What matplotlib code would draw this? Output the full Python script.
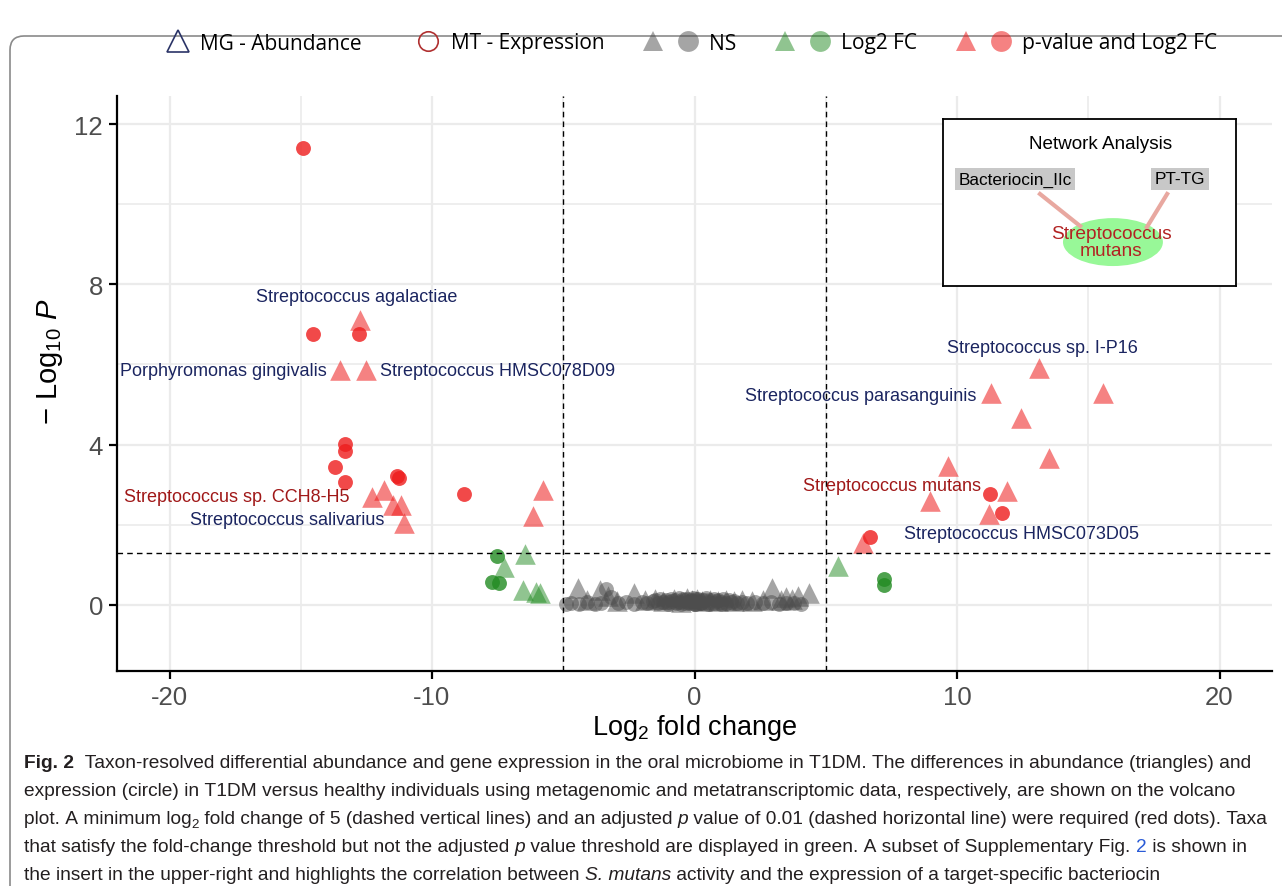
import matplotlib
matplotlib.use("Agg")
import matplotlib.pyplot as plt
from matplotlib.lines import Line2D
from matplotlib.legend_handler import HandlerTuple
from matplotlib.patches import FancyBboxPatch, Ellipse
from matplotlib.transforms import IdentityTransform

plt.rcParams["font.family"] = ["Liberation Sans", "DejaVu Sans"]
plt.rcParams["mathtext.fontset"] = "custom"
plt.rcParams["mathtext.rm"] = "Liberation Sans"
plt.rcParams["mathtext.it"] = "Liberation Sans:italic"
plt.rcParams["axes.unicode_minus"] = False

# significant (p-value and log2 FC), metatranscriptome (circles)
sig_mt_x = [-14.93, -14.55, -12.8, -13.33, -13.33, -13.68, -13.3, -11.35, -11.24, -8.8, 11.24, 11.73, 6.7]
sig_mt_y = [11.4, 6.77, 6.75, 4.01, 3.83, 3.44, 3.06, 3.21, 3.16, 2.76, 2.76, 2.29, 1.69]
# significant, metagenome (triangles)
sig_mg_x = [-12.76, -13.49, -12.53, -12.27, -11.81, -11.47, -11.2, -11.05, -5.79, -6.17,
            13.14, 11.28, 15.58, 12.42, 13.52, 9.64, 8.99, 11.92, 11.2, 6.4]
sig_mg_y = [7.12, 5.85, 5.87, 2.69, 2.86, 2.49, 2.49, 2.04, 2.86, 2.22,
            5.9, 5.3, 5.3, 4.66, 3.66, 3.46, 2.59, 2.84, 2.27, 1.54]
# log2 FC only
fc_mt_x = [-7.54, -7.7, -7.43, 7.2, 7.2]
fc_mt_y = [1.22, 0.57, 0.55, 0.65, 0.5]
fc_mg_x = [-6.44, -7.24, -6.55, -6.02, -5.9, 5.45]
fc_mg_y = [1.27, 0.95, 0.37, 0.32, 0.3, 0.97]
# not significant
ns_mg_x = [-4.45, -4.1, -3.6, -3.3, -2.95, -2.3, -1.9, -1.5, -1.2, -0.8, -0.5, -0.3, -0.1, 0.1, 0.3,
           0.6, 0.9, 1.2, 1.5, 1.8, 2.2, 2.6, 2.95, 3.3, 3.5, 3.7, 3.95, 4.35]
ns_mg_y = [0.42, 0.12, 0.36, 0.22, 0.1, 0.3, 0.12, 0.15, 0.1, 0.14, 0.08, 0.18, 0.12, 0.15, 0.1,
           0.12, 0.09, 0.13, 0.1, 0.12, 0.1, 0.12, 0.42, 0.12, 0.2, 0.15, 0.22, 0.3]
ns_mt_x = [-4.9, -4.7, -4.4, -4.1, -3.8, -3.55, -3.39, -3.2, -2.9, -2.6, -2.3, -2.0, -1.8, -1.6, -1.4,
           -1.2, -1.0, -0.85, -0.7, -0.55, -0.4, -0.25, -0.1, 0.0, 0.1, 0.25, 0.4, 0.55, 0.7, 0.85,
           1.0, 1.2, 1.4, 1.6, 1.8, 2.0, 2.3, 2.6, 2.9, 3.2, 3.5, 3.8, 4.05,
           -1.5, -1.3, -1.1, -0.9, -0.75, -0.6, -0.45, -0.3, -0.15, -0.05, 0.05, 0.15, 0.3,
           0.45, 0.6, 0.75, 0.9, 1.1, 1.3, 1.5, -0.5, 0.5, -1.0, 1.0, 0.0, -0.2, 0.2]
ns_mt_y = [0.03, 0.05, 0.02, 0.06, 0.03, 0.05, 0.40, 0.2, 0.04, 0.06, 0.03, 0.07, 0.05, 0.1, 0.04,
           0.08, 0.06, 0.1, 0.04, 0.08, 0.12, 0.06, 0.1, 0.03, 0.09, 0.05, 0.11, 0.07, 0.04, 0.09,
           0.06, 0.05, 0.08, 0.04, 0.06, 0.05, 0.07, 0.04, 0.06, 0.03, 0.05, 0.04, 0.03,
           0.12, 0.14, 0.11, 0.15, 0.13, 0.16, 0.14, 0.15, 0.13, 0.16, 0.14, 0.15, 0.13,
           0.16, 0.12, 0.14, 0.13, 0.15, 0.12, 0.1, 0.02, 0.02, 0.03, 0.03, 0.01, 0.05, 0.04]

# labels next to points
label_text = ["Streptococcus agalactiae", "Porphyromonas gingivalis", "Streptococcus HMSC078D09",
              "Streptococcus sp. CCH8-H5", "Streptococcus salivarius", "Streptococcus sp. I-P16",
              "Streptococcus parasanguinis", "Streptococcus mutans", "Streptococcus HMSC073D05"]
label_x = [-12.88, -14.02, -12.0, -13.14, -11.81, 13.26, 10.74, 10.9, 8.0]
label_y = [7.69, 5.85, 5.85, 2.71, 2.14, 6.42, 5.23, 2.99, 1.77]
label_ha = ["center", "right", "left", "right", "right", "center", "right", "right", "left"]
label_mt = [False, False, False, True, False, False, False, True, False]

NAVY = "#1b2560"
DARKRED = "#a01818"

fig = plt.figure(figsize=(12.82, 8.87), dpi=100)
ax = fig.add_axes([117 / 1282, 1 - 672 / 887, 1155 / 1282, 575 / 887])

ax.set_xlim(-22, 22)
ax.set_ylim(-1.65, 12.7)
ax.set_xticks([-20, -10, 0, 10, 20])
ax.set_xticks([-15, -5, 5, 15], minor=True)
ax.set_yticks([0, 4, 8, 12])
ax.set_yticks([2, 6, 10], minor=True)
ax.grid(True, which="major", color="#ebebeb", lw=1.6)
ax.grid(True, which="minor", color="#ebebeb", lw=1.2)
ax.set_axisbelow(True)
for s in ["top", "right"]:
    ax.spines[s].set_visible(False)
for s in ["left", "bottom"]:
    ax.spines[s].set_linewidth(1.6)
ax.tick_params(which="major", length=6, width=1.6, labelsize=18.5, labelcolor="#4d4d4d", pad=4)
ax.tick_params(which="minor", length=0)

tri_s = 220
circ_s = 115
ax.scatter(ns_mg_x, ns_mg_y, marker="^", s=tri_s, color="#4d4d4d", alpha=0.5, lw=0)
ax.scatter(ns_mt_x, ns_mt_y, marker="o", s=circ_s, color="#4d4d4d", alpha=0.5, lw=0)
ax.scatter(fc_mg_x, fc_mg_y, marker="^", s=tri_s, color="#228b22", alpha=0.5, lw=0)
ax.scatter(fc_mt_x, fc_mt_y, marker="o", s=circ_s, color="#228b22", alpha=0.8, lw=0)
ax.scatter(sig_mg_x, sig_mg_y, marker="^", s=tri_s, color="#ee1c1c", alpha=0.55, lw=0)
ax.scatter(sig_mt_x, sig_mt_y, marker="o", s=circ_s, color="#ee1c1c", alpha=0.8, lw=0)

ax.axvline(-5, color="black", lw=1, ls=(0, (4, 3)))
ax.axvline(5, color="black", lw=1, ls=(0, (4, 3)))
ax.axhline(1.3, color="black", lw=1, ls=(0, (4, 3)))

for t, x, y, ha, mt in zip(label_text, label_x, label_y, label_ha, label_mt):
    ax.text(x, y, t, ha=ha, va="center", fontsize=13, color=DARKRED if mt else NAVY)

ax.set_xlabel("Log$_2$ fold change", fontsize=19.5, labelpad=2)
ax.set_ylabel("\u2212 Log$_{10}$ $P$", fontsize=21)
ax.yaxis.set_label_coords(-0.045, 0.54)

# network analysis insert
ins = fig.add_axes([943 / 1282, 1 - 287 / 887, 293 / 1282, 167 / 887])
ins.set_xlim(0, 1)
ins.set_ylim(0, 1)
ins.set_xticks([])
ins.set_yticks([])
for s in ins.spines.values():
    s.set_linewidth(1.3)
ins.text(0.539, 0.856, "Network Analysis", ha="center", va="center", fontsize=13.6)
ins.plot([0.331, 0.468], [0.551, 0.359], color="#e8a8a0", lw=3)
ins.plot([0.765, 0.696], [0.551, 0.353], color="#e8a8a0", lw=3)
ins.add_patch(Ellipse((0.58, 0.263), 0.341, 0.287, color="#98f898", lw=0))
box = dict(boxstyle="square,pad=0.2", fc="#c8c8c8", ec="none")
ins.text(0.246, 0.641, "Bacteriocin_IIc", ha="center", va="center", fontsize=12.4, bbox=box)
ins.text(0.809, 0.641, "PT-TG", ha="center", va="center", fontsize=12.4, bbox=box)
ins.text(0.575, 0.263, "Streptococcus\nmutans", ha="center", va="center", fontsize=13.8,
         color="#b22222", linespacing=1.05)

# legend on top
mk = dict(ls="", ms=15, mew=0)
h_mg = Line2D([], [], marker="^", ls="", ms=16, mfc="none", mec="#2b3467", mew=1.2)
h_mt = Line2D([], [], marker="o", ls="", ms=14, mfc="none", mec="#b03030", mew=1.2)
h_ns = (Line2D([], [], marker="^", color="#4d4d4d", alpha=0.5, **mk),
        Line2D([], [], marker="o", color="#4d4d4d", alpha=0.5, **mk))
h_fc = (Line2D([], [], marker="^", color="#228b22", alpha=0.5, **mk),
        Line2D([], [], marker="o", color="#228b22", alpha=0.5, **mk))
h_sig = (Line2D([], [], marker="^", color="#ee1c1c", alpha=0.55, **mk),
         Line2D([], [], marker="o", color="#ee1c1c", alpha=0.55, **mk))
sp = "\u00a0" * 3
fig.legend([h_mg, h_mt, h_ns, h_fc, h_sig],
           ["MG - Abundance", "MT - Expression", sp + "NS", sp + "Log2 FC", sp + "p-value and Log2 FC"],
           handler_map={tuple: HandlerTuple(ndivide=None, pad=1.15)},
           loc="center", bbox_to_anchor=(0.535, 1 - 44 / 887), ncol=5, frameon=False,
           prop={"family": ["Open Sans", "DejaVu Sans"], "size": 15},
           handlelength=2.2, handletextpad=0.0, columnspacing=2.06)

# article frame
fig.patches.append(FancyBboxPatch((10, -60), 1400, 887 - 37 + 60,
                                  boxstyle="round,pad=0,rounding_size=14",
                                  transform=IdentityTransform(), fc="none", ec="#8a8a8a", lw=1.2,
                                  figure=fig))

# caption
renderer = fig.canvas.get_renderer()
cap_font = ["Liberation Sans Narrow", "Liberation Sans", "DejaVu Sans"]
cap_size = 13.8
cap_lines = [
    [("Fig. 2", {"fontweight": "bold"}),
     ("  Taxon-resolved differential abundance and gene expression in the oral microbiome in T1DM. "
      "The differences in abundance (triangles) and", {})],
    [("expression (circle) in T1DM versus healthy individuals using metagenomic and metatranscriptomic "
      "data, respectively, are shown on the volcano", {})],
    [("plot. A minimum log", {}), ("2", {"sub": True}),
     (" fold change of 5 (dashed vertical lines) and an adjusted ", {}), ("p", {"fontstyle": "italic"}),
     (" value of 0.01 (dashed horizontal line) were required (red dots). Taxa", {})],
    [("that satisfy the fold-change threshold but not the adjusted ", {}), ("p", {"fontstyle": "italic"}),
     (" value threshold are displayed in green. A subset of Supplementary Fig. ", {}),
     ("2", {"color": "#2a5bd7"}), (" is shown in", {})],
    [("the insert in the upper-right and highlights the correlation between ", {}),
     ("S. mutans", {"fontstyle": "italic"}),
     (" activity and the expression of a target-specific bacteriocin", {})],
]
cap_y = [764, 792, 820, 848, 876]
for segs, py in zip(cap_lines, cap_y):
    xpix = 24
    for txt, kw in segs:
        kw = dict(kw)
        sub = kw.pop("sub", False)
        size = cap_size * 0.7 if sub else cap_size
        ypix = py + 5 if sub else py
        t = fig.text(xpix / 1282, 1 - ypix / 887, txt.replace(" ", "\u00a0"), fontsize=size,
                     family=cap_font, va="center", ha="left", color=kw.pop("color", "#231f20"), **kw)
        bb = t.get_window_extent(renderer)
        xpix = bb.x1

fig.savefig("out.png", dpi=100)
